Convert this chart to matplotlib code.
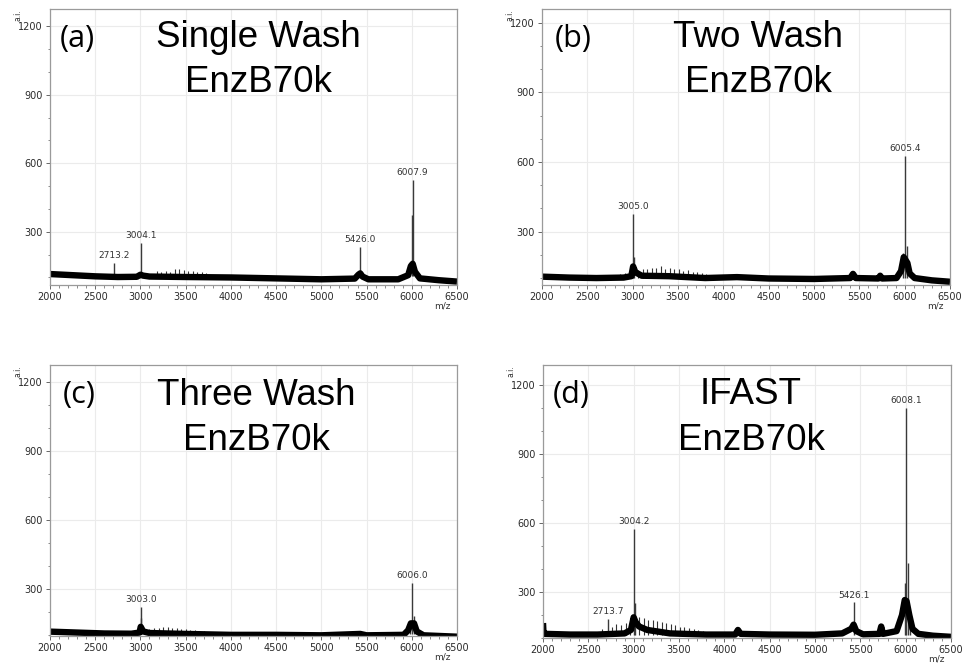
import matplotlib
matplotlib.use("Agg")
import matplotlib.pyplot as plt

# ---- panel (a) single wash ----
a_base_mz = [2000, 2250, 2500, 2750, 2960, 3000, 3030, 3100, 3500, 4000, 4500, 5000, 5370, 5410, 5430, 5455, 5520,
             5850, 5960, 5990, 6010, 6035, 6090, 6300, 6500]
a_base_int = [115, 110, 105, 102, 103, 112, 108, 104, 102, 100, 96, 92, 95, 112, 118, 104, 92,
              92, 110, 150, 160, 125, 96, 88, 82]
a_peak_mz = [2713, 3004, 5426, 6003, 6008]
a_peak_int = [165, 252, 234, 373, 527]
a_ladder_mz = [3180, 3230, 3280, 3330, 3380, 3430, 3480, 3530, 3580, 3630, 3680, 3730]
a_ladder_int = [128, 124, 130, 126, 135, 138, 132, 130, 128, 126, 124, 120]
a_labels = ["2713.2", "3004.1", "5426.0", "6007.9"]
a_label_mz = [2713, 3004, 5426, 6008]
a_label_int = [165, 252, 234, 527]

# ---- panel (b) two wash ----
b_base_mz = [2000, 2300, 2600, 2900, 2985, 3005, 3030, 3100, 3400, 3800, 4150, 4500, 5000, 5400, 5430, 5460,
             5710, 5730, 5750, 5910, 5960, 5990, 6030, 6055, 6110, 6300, 6500]
b_base_int = [106, 102, 100, 102, 108, 150, 125, 110, 108, 100, 104, 98, 96, 100, 118, 100,
              98, 110, 98, 100, 130, 190, 165, 120, 100, 90, 84]
b_peak_mz = [3005, 3010, 5985, 6005, 6022]
b_peak_int = [376, 192, 208, 627, 240]
b_ladder_mz = [2860, 2910, 2960, 3060, 3110, 3160, 3210, 3260, 3310, 3360, 3410, 3460, 3510, 3560, 3610, 3660,
               3710, 3760, 3810]
b_ladder_int = [118, 122, 126, 135, 140, 138, 145, 142, 150, 140, 145, 138, 140, 132, 136, 128, 124, 120, 116]
b_labels = ["3005.0", "6005.4"]
b_label_mz = [3005, 6005]
b_label_int = [376, 627]

# ---- panel (c) three wash ----
c_base_mz = [2000, 2300, 2600, 2900, 2990, 3003, 3030, 3100, 3500, 4000, 4500, 5000, 5430, 5500, 5910, 5960,
             5990, 6025, 6055, 6130, 6500]
c_base_int = [114, 110, 106, 105, 110, 135, 115, 108, 104, 100, 100, 98, 104, 98, 100, 120,
              150, 150, 115, 98, 92]
c_peak_mz = [3003, 3008, 5975, 6006, 6022]
c_peak_int = [223, 172, 158, 327, 182]
c_ladder_mz = [3100, 3150, 3200, 3250, 3300, 3350, 3400, 3450, 3500, 3550, 3600, 3650, 3700]
c_ladder_int = [125, 130, 128, 134, 136, 130, 128, 126, 124, 122, 120, 118, 116]
c_labels = ["3003.0", "6006.0"]
c_label_mz = [3003, 6006]
c_label_int = [223, 327]

# ---- panel (d) IFAST ----
d_base_mz = [2000, 2005, 2020, 2300, 2600, 2900, 2970, 3000, 3020, 3060, 3150, 3400, 3800, 4120, 4150, 4180,
             4500, 5000, 5300, 5400, 5426, 5455, 5530, 5710, 5730, 5750, 5900, 5960, 5990, 6010, 6040, 6075,
             6140, 6300, 6500]
d_base_int = [165, 125, 118, 115, 115, 120, 135, 190, 170, 150, 135, 120, 115, 115, 135, 118,
              115, 114, 120, 140, 158, 130, 116, 118, 150, 118, 130, 200, 265, 260, 200, 140,
              118, 110, 105]
d_peak_mz = [2713, 3004, 3010, 5426, 5995, 6008, 6030, 6050]
d_peak_int = [183, 573, 252, 255, 340, 1100, 428, 200]
d_ladder_mz = [2650, 2760, 2810, 2860, 2910, 2960, 3060, 3110, 3160, 3210, 3260, 3310, 3360, 3410, 3460, 3510,
               3560, 3610, 3660, 3710, 3760, 3810, 3860]
d_ladder_int = [140, 150, 160, 155, 165, 175, 190, 185, 180, 178, 172, 170, 165, 160, 158, 150,
                148, 142, 140, 135, 132, 128, 125]
d_labels = ["2713.7", "3004.2", "5426.1", "6008.1"]
d_label_mz = [2713, 3004, 5426, 6008]
d_label_int = [183, 573, 255, 1100]

titles = [("(a)", "Single Wash", "EnzB70k"), ("(b)", "Two Wash", "EnzB70k"),
          ("(c)", "Three Wash", "EnzB70k"), ("(d)", "IFAST", "EnzB70k")]

W, H = 965, 669
fig = plt.figure(figsize=(W / 100, H / 100), dpi=100)


def rect(l, t, r, b):
    return [l / W, 1 - b / H, (r - l) / W, (b - t) / H]


def panel(box, ylim, base_mz, base_int, peak_mz, peak_int, lad_mz, lad_int, labels, lab_mz, lab_int, floor):
    ax = fig.add_axes(box)
    ax.set_xlim(2000, 6500)
    ax.set_ylim(*ylim)
    ax.set_xticks(range(2000, 6501, 500))
    ax.set_xticks(range(2000, 6501, 100), minor=True)
    ax.set_yticks([300, 600, 900, 1200])
    ax.set_yticks(range(100, 1300, 100), minor=True)
    ax.grid(True, which='major', color='#ebebeb', lw=0.8)
    ax.set_axisbelow(True)
    for s in ax.spines.values():
        s.set_color('#9a9a9a')
        s.set_linewidth(0.9)
    ax.tick_params(which='major', length=3, width=0.7, color='#666666', labelsize=7,
                   labelcolor='#2a2a2a', pad=2)
    ax.tick_params(which='minor', length=1.8, width=0.6, color='#777777')

    ax.vlines(lad_mz, floor, lad_int, color='#333333', lw=0.8)
    ax.vlines(peak_mz, floor, peak_int, color='#3a3a3a', lw=1.0)
    ax.plot(base_mz, base_int, color='black', lw=4.6, solid_joinstyle='round', solid_capstyle='butt')

    for t, x, y in zip(labels, lab_mz, lab_int):
        ax.annotate(t, (x, y), xytext=(0, 2), textcoords='offset points', ha='center', va='bottom',
                    fontsize=6.5, color='#333333')
    ax.text(-0.09, 1.0, 'a.i.', rotation=90, ha='left', va='top', fontsize=5.5, color='#333333',
            transform=ax.transAxes)
    ax.text(0.985, -0.06, 'm/z', ha='right', va='top', fontsize=6.5, color='#333333',
            transform=ax.transAxes)
    return ax


panel(rect(50, 9, 457, 285), (67, 1276), a_base_mz, a_base_int, a_peak_mz, a_peak_int,
      a_ladder_mz, a_ladder_int, a_labels, a_label_mz, a_label_int, 105)
panel(rect(542, 9, 950, 285), (70, 1260), b_base_mz, b_base_int, b_peak_mz, b_peak_int,
      b_ladder_mz, b_ladder_int, b_labels, b_label_mz, b_label_int, 100)
panel(rect(50, 365, 457, 636), (95, 1275), c_base_mz, c_base_int, c_peak_mz, c_peak_int,
      c_ladder_mz, c_ladder_int, c_labels, c_label_mz, c_label_int, 105)
panel(rect(543, 365, 951, 638), (103, 1287), d_base_mz, d_base_int, d_peak_mz, d_peak_int,
      d_ladder_mz, d_ladder_int, d_labels, d_label_mz, d_label_int, 115)

# title positions in pixels: (letter left, letter baseline, title centre, line1 baseline, line2 baseline)
title_pos = [(60, 47, 258, 47, 92), (555, 47, 758, 47, 92), (63, 403, 256, 405, 450), (553, 403, 751, 404, 450)]
for (lt, l1, l2), (lx, ly, cx, y1, y2) in zip(titles, title_pos):
    fig.text(lx / W, 1 - ly / H, lt, family='Open Sans', fontsize=22, ha='left', va='baseline')
    fig.text(cx / W, 1 - y1 / H, l1, family='Liberation Sans', fontsize=26.5, ha='center', va='baseline')
    fig.text(cx / W, 1 - y2 / H, l2, family='Liberation Sans', fontsize=26.5, ha='center', va='baseline')

fig.savefig('out.png', dpi=100, facecolor='white')
